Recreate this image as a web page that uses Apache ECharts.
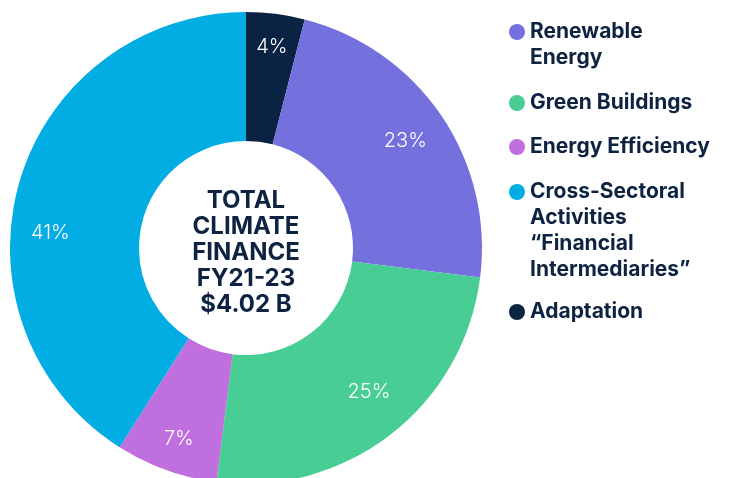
<!DOCTYPE html>
<html>
<head>
<meta charset="utf-8">
<script src="https://cdn.jsdelivr.net/npm/echarts@6/dist/echarts.min.js"></script>
<style>
    html, body { margin: 0; padding: 0; background: #fff; }
    #chart { width: 730px; height: 478px; }
</style>
</head>
<body>
<div id="chart"></div>
<script>
// ==================== Data ====================
// slice order = clockwise from 12 o'clock
const categories = [
    'Adaptation',
    'Renewable Energy',
    'Green Buildings',
    'Energy Efficiency',
    'Cross-Sectoral Activities “Financial Intermediaries”'
];
const shares = [4, 23, 25, 7, 41];
const sliceColors = ['#0b2343', '#7470de', '#48cd94', '#c070de', '#02ade3'];

// legend reads in a different order than the slices
const legendOrder = [
    'Renewable Energy',
    'Green Buildings',
    'Energy Efficiency',
    'Cross-Sectoral Activities “Financial Intermediaries”',
    'Adaptation'
];
const legendLines = [
    'Renewable\nEnergy',
    'Green Buildings',
    'Energy Efficiency',
    'Cross-Sectoral\nActivities\n“Financial\nIntermediaries”',
    'Adaptation'
];
const centerLines = ['TOTAL', 'CLIMATE', 'FINANCE', 'FY21-23', '$4.02 B'];

// ==================== Layout ====================
const NAVY = '#0d2341';
const LH = 26;
const legendIconY = [32, 103, 147, 192, 312];
// designer nudged the % labels off the mid-ring position
const labelShift = [[4, -28], [15, -9], [16, 6], [-8, 27], [-28, 34]];

// legend text is always centred on the icon, so pad multi-line names with
// blank lines on top to bring the first line level with the dot
function buildLegends() {
    return legendOrder.map((name, i) => {
        const n = legendLines[i].split('\n').length;
        const boxH = (2 * n - 1) * LH;
        return {
            data: [name],
            left: 509,
            top: legendIconY[i] - boxH / 2,
            padding: 0,
            icon: 'circle',
            itemWidth: 16,
            itemHeight: 16,
            itemGap: 0,
            selectedMode: false,
            formatter: () => '\n'.repeat(n - 1) + legendLines[i],
            textStyle: {
                color: NAVY,
                fontFamily: 'Inter',
                fontWeight: 'bold',
                fontSize: 21,
                lineHeight: LH
            }
        };
    });
}

// ==================== Chart ====================
const chart = echarts.init(document.getElementById('chart'), null, { renderer: 'canvas' });
chart.setOption({
    animation: false,
    legend: buildLegends(),
    graphic: [{
        type: 'text',
        x: 246,
        y: 253,
        style: {
            text: centerLines.join('\n'),
            align: 'center',
            verticalAlign: 'middle',
            fill: NAVY,
            fontFamily: 'Inter',
            fontWeight: 'bold',
            fontSize: 24,
            lineHeight: LH
        }
    }],
    series: [{
        type: 'pie',
        center: [246, 248],
        radius: [107, 236],
        startAngle: 90,
        clockwise: true,
        avoidLabelOverlap: false,
        itemStyle: { borderWidth: 0 },
        label: {
            show: true,
            position: 'inside',
            formatter: '{d}%',
            color: '#fff',
            fontFamily: 'Inter',
            fontWeight: 300,
            fontSize: 20
        },
        labelLine: { show: false },
        labelLayout: p => ({ dx: labelShift[p.dataIndex][0], dy: labelShift[p.dataIndex][1] }),
        emphasis: { disabled: true },
        data: categories.map((name, i) => ({
            name: name,
            value: shares[i],
            itemStyle: { color: sliceColors[i] }
        }))
    }]
});
</script>
</body>
</html>
